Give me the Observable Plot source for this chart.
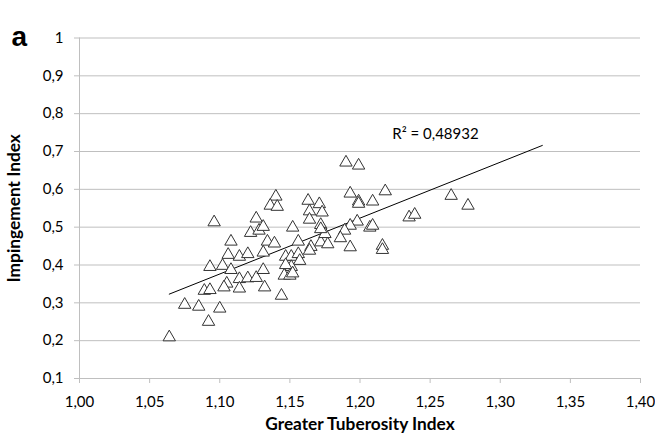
<!DOCTYPE html>
<html>
<head>
<meta charset="utf-8">
<script src="https://cdn.jsdelivr.net/npm/d3@7"></script>
<script src="https://cdn.jsdelivr.net/npm/@observablehq/plot@0.6"></script>
<style>
  html, body { margin: 0; padding: 0; background: white; }
</style>
</head>
<body>
<div id="chart"></div>
<script>
// Greater Tuberosity Index (x) and Impingement Index (y)
const gti = [
  1.064, 1.075, 1.085, 1.100, 1.092, 1.089, 1.093, 1.093, 1.102, 1.106,
  1.114, 1.120, 1.108, 1.105, 1.103, 1.114, 1.114, 1.120, 1.126, 1.131,
  1.132, 1.131, 1.108, 1.096, 1.140, 1.136, 1.141, 1.126, 1.122, 1.128,
  1.131, 1.152, 1.134, 1.139, 1.156, 1.147, 1.151, 1.156, 1.157, 1.165,
  1.164, 1.151, 1.146, 1.150, 1.163, 1.171, 1.164, 1.173, 1.164, 1.172,
  1.172, 1.175, 1.144, 1.190, 1.199, 1.193, 1.218, 1.199, 1.199, 1.209,
  1.172, 1.198, 1.193, 1.189, 1.186, 1.207, 1.209, 1.193, 1.216, 1.216,
  1.177, 1.265, 1.277, 1.235, 1.239, 1.147, 1.152
];
const impingement = [
  0.209, 0.295, 0.290, 0.285, 0.250, 0.332, 0.334, 0.395, 0.398, 0.427,
  0.422, 0.429, 0.387, 0.351, 0.341, 0.363, 0.338, 0.365, 0.366, 0.387,
  0.341, 0.433, 0.462, 0.513, 0.581, 0.557, 0.554, 0.523, 0.485, 0.491,
  0.501, 0.499, 0.462, 0.457, 0.462, 0.422, 0.422, 0.429, 0.411, 0.448,
  0.438, 0.395, 0.372, 0.372, 0.570, 0.561, 0.542, 0.539, 0.520, 0.506,
  0.460, 0.482, 0.319, 0.671, 0.663, 0.589, 0.595, 0.568, 0.562, 0.568,
  0.495, 0.515, 0.504, 0.491, 0.471, 0.499, 0.504, 0.447, 0.451, 0.440,
  0.455, 0.583, 0.557, 0.526, 0.533, 0.400, 0.378
];
// Trend line end points as drawn
const trendX = [1.064, 1.330];
const trendY = [0.323, 0.716];
const r2Label = "R² = 0,48932";
const r2Pos = [1.223, 0.747];

const xTicks = [1.00, 1.05, 1.10, 1.15, 1.20, 1.25, 1.30, 1.35, 1.40];
const yTicks = [0.1, 0.2, 0.3, 0.4, 0.5, 0.6, 0.7, 0.8, 0.9, 1.0];

const points = gti.map((x, i) => ({x, y: impingement[i]}));
const trend = trendX.map((x, i) => ({x, y: trendY[i]}));

const loc = d3.formatLocale({decimal: ",", thousands: ".", grouping: [3], currency: ["", "€"]});
const fmtX = loc.format(".2f");
const fmtY = loc.format(".1~f");

const axisColor = "#bfbfbf";

const chart = Plot.plot({
  width: 655,
  height: 438,
  marginLeft: 79,
  marginRight: 15,
  marginTop: 37.5,
  marginBottom: 60,
  style: {fontFamily: "Lato, 'Open Sans', sans-serif", fontSize: "15px", background: "white", color: "#000"},
  x: {domain: [1, 1.4]},
  y: {domain: [0.1, 1]},
  marks: [
    Plot.gridY(yTicks, {stroke: axisColor, strokeOpacity: 1, strokeWidth: 1}),
    Plot.ruleX([1], {stroke: axisColor, strokeWidth: 1}),
    Plot.axisY(yTicks, {tickSize: 5, tickPadding: 11, tickFormat: fmtY, stroke: axisColor, fill: "#000", label: null, fontSize: 15}),
    Plot.axisX(xTicks, {tickSize: 5, tickPadding: 13, tickFormat: fmtX, stroke: axisColor, fill: "#000", label: null, fontSize: 15}),
    Plot.line(trend, {x: "x", y: "y", stroke: "#000", strokeWidth: 1}),
    Plot.dot(points, {x: "x", y: "y", symbol: "triangle", r: 4.6, fill: "white", stroke: "#333", strokeWidth: 1}),
    Plot.text([r2Label], {x: r2Pos[0], y: r2Pos[1], text: d => d, textAnchor: "start", fontSize: 15, fill: "#000"}),
    Plot.text(["Greater Tuberosity Index"], {text: d => d, frameAnchor: "bottom", dy: 51, fontWeight: "bold", fontSize: 17.3, fill: "#000"}),
    Plot.text(["Impingement Index"], {text: d => d, frameAnchor: "left", dx: -65, rotate: -90, textAnchor: "middle", fontWeight: "bold", fontSize: 17.3, fill: "#000"}),
    Plot.text(["a"], {text: d => d, frameAnchor: "top-left", dx: -68, dy: -12, textAnchor: "start", fontWeight: "bold", fontSize: 28, fontFamily: "'Liberation Sans', Arial, sans-serif", fill: "#000"})
  ]
});
document.getElementById("chart").appendChild(chart);
</script>
</body>
</html>
